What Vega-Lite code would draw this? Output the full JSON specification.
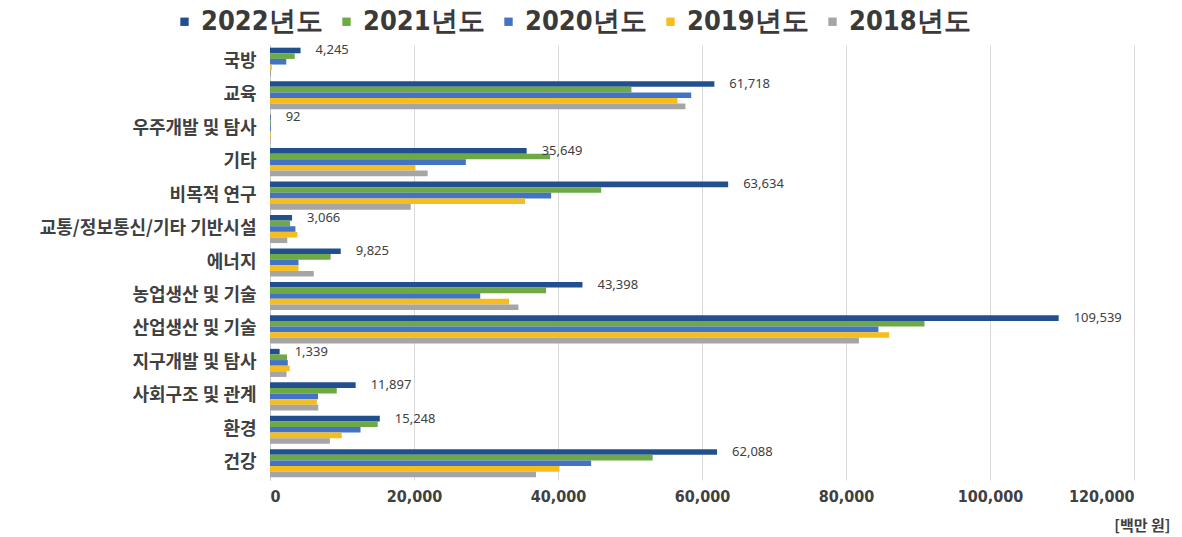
{
  "$schema": "https://vega.github.io/schema/vega-lite/v6.json",
  "width": 864,
  "height": 435,
  "autosize": {"type": "none"},
  "padding": {"left": 270, "top": 45, "right": 48, "bottom": 57},
  "background": "white",
  "config": {"view": {"stroke": null}},
  "data": {"values": [
    {"cat": "국방", "year": "2022년도", "value": 4245},
    {"cat": "국방", "year": "2021년도", "value": 3430},
    {"cat": "국방", "year": "2020년도", "value": 2260},
    {"cat": "국방", "year": "2019년도", "value": 250},
    {"cat": "국방", "year": "2018년도", "value": 150},
    {"cat": "교육", "year": "2022년도", "value": 61718},
    {"cat": "교육", "year": "2021년도", "value": 50200},
    {"cat": "교육", "year": "2020년도", "value": 58500},
    {"cat": "교육", "year": "2019년도", "value": 56600},
    {"cat": "교육", "year": "2018년도", "value": 57700},
    {"cat": "우주개발 및 탐사", "year": "2022년도", "value": 92},
    {"cat": "우주개발 및 탐사", "year": "2021년도", "value": 110},
    {"cat": "우주개발 및 탐사", "year": "2020년도", "value": 120},
    {"cat": "우주개발 및 탐사", "year": "2019년도", "value": 100},
    {"cat": "우주개발 및 탐사", "year": "2018년도", "value": 90},
    {"cat": "기타", "year": "2022년도", "value": 35649},
    {"cat": "기타", "year": "2021년도", "value": 38900},
    {"cat": "기타", "year": "2020년도", "value": 27200},
    {"cat": "기타", "year": "2019년도", "value": 20200},
    {"cat": "기타", "year": "2018년도", "value": 21900},
    {"cat": "비목적 연구", "year": "2022년도", "value": 63634},
    {"cat": "비목적 연구", "year": "2021년도", "value": 46000},
    {"cat": "비목적 연구", "year": "2020년도", "value": 39050},
    {"cat": "비목적 연구", "year": "2019년도", "value": 35430},
    {"cat": "비목적 연구", "year": "2018년도", "value": 19550},
    {"cat": "교통/정보통신/기타 기반시설", "year": "2022년도", "value": 3066},
    {"cat": "교통/정보통신/기타 기반시설", "year": "2021년도", "value": 2800},
    {"cat": "교통/정보통신/기타 기반시설", "year": "2020년도", "value": 3530},
    {"cat": "교통/정보통신/기타 기반시설", "year": "2019년도", "value": 3800},
    {"cat": "교통/정보통신/기타 기반시설", "year": "2018년도", "value": 2400},
    {"cat": "에너지", "year": "2022년도", "value": 9825},
    {"cat": "에너지", "year": "2021년도", "value": 8420},
    {"cat": "에너지", "year": "2020년도", "value": 3960},
    {"cat": "에너지", "year": "2019년도", "value": 3960},
    {"cat": "에너지", "year": "2018년도", "value": 6080},
    {"cat": "농업생산 및 기술", "year": "2022년도", "value": 43398},
    {"cat": "농업생산 및 기술", "year": "2021년도", "value": 38340},
    {"cat": "농업생산 및 기술", "year": "2020년도", "value": 29200},
    {"cat": "농업생산 및 기술", "year": "2019년도", "value": 33200},
    {"cat": "농업생산 및 기술", "year": "2018년도", "value": 34500},
    {"cat": "산업생산 및 기술", "year": "2022년도", "value": 109539},
    {"cat": "산업생산 및 기술", "year": "2021년도", "value": 90900},
    {"cat": "산업생산 및 기술", "year": "2020년도", "value": 84500},
    {"cat": "산업생산 및 기술", "year": "2019년도", "value": 86000},
    {"cat": "산업생산 및 기술", "year": "2018년도", "value": 81800},
    {"cat": "지구개발 및 탐사", "year": "2022년도", "value": 1339},
    {"cat": "지구개발 및 탐사", "year": "2021년도", "value": 2360},
    {"cat": "지구개발 및 탐사", "year": "2020년도", "value": 2470},
    {"cat": "지구개발 및 탐사", "year": "2019년도", "value": 2740},
    {"cat": "지구개발 및 탐사", "year": "2018년도", "value": 2300},
    {"cat": "사회구조 및 관계", "year": "2022년도", "value": 11897},
    {"cat": "사회구조 및 관계", "year": "2021년도", "value": 9270},
    {"cat": "사회구조 및 관계", "year": "2020년도", "value": 6670},
    {"cat": "사회구조 및 관계", "year": "2019년도", "value": 6510},
    {"cat": "사회구조 및 관계", "year": "2018년도", "value": 6700},
    {"cat": "환경", "year": "2022년도", "value": 15248},
    {"cat": "환경", "year": "2021년도", "value": 14960},
    {"cat": "환경", "year": "2020년도", "value": 12570},
    {"cat": "환경", "year": "2019년도", "value": 9970},
    {"cat": "환경", "year": "2018년도", "value": 8320},
    {"cat": "건강", "year": "2022년도", "value": 62088},
    {"cat": "건강", "year": "2021년도", "value": 53150},
    {"cat": "건강", "year": "2020년도", "value": 44600},
    {"cat": "건강", "year": "2019년도", "value": 40200},
    {"cat": "건강", "year": "2018년도", "value": 36950}
  ]},
  "encoding": {
    "y": {
      "field": "cat", "type": "nominal",
      "sort": ["국방", "교육", "우주개발 및 탐사", "기타", "비목적 연구", "교통/정보통신/기타 기반시설", "에너지", "농업생산 및 기술", "산업생산 및 기술", "지구개발 및 탐사", "사회구조 및 관계", "환경", "건강"],
      "scale": {"paddingInner": 0.16, "paddingOuter": 0.08},
      "axis": {
        "title": null, "ticks": false, "domain": true, "domainColor": "#c8c8c8",
        "labelFont": "Noto Sans CJK KR", "labelFontSize": 18, "labelFontWeight": "bold",
        "labelColor": "#404040", "labelPadding": 14, "labelLimit": 300
      }
    },
    "yOffset": {
      "field": "year", "type": "nominal",
      "sort": ["2022년도", "2021년도", "2020년도", "2019년도", "2018년도"],
      "scale": {"paddingInner": 0, "paddingOuter": 0}
    },
    "x": {
      "field": "value", "type": "quantitative",
      "scale": {"domain": [0, 120000], "nice": false},
      "axis": {
        "values": [0, 20000, 40000, 60000, 80000, 100000, 120000],
        "format": ",.0f", "domain": false, "ticks": false,
        "grid": true, "gridColor": "#d9d9d9",
        "labelFont": "DejaVu Sans Condensed", "labelFontSize": 16, "labelFontWeight": "bold",
        "labelColor": "#404040", "labelPadding": 8,
        "title": "[백만 원]", "titleFont": "Noto Sans CJK KR", "titleFontSize": 15,
        "titleFontWeight": "bold", "titleColor": "#404040",
        "titleAnchor": "end", "titleAlign": "right", "titleX": 900, "titleY": 50,
        "titleBaseline": "alphabetic"
      }
    }
  },
  "layer": [
    {
      "mark": {"type": "bar"},
      "encoding": {
        "color": {
          "field": "year", "type": "nominal",
          "sort": ["2022년도", "2021년도", "2020년도", "2019년도", "2018년도"],
          "scale": {
            "domain": ["2022년도", "2021년도", "2020년도", "2019년도", "2018년도"],
            "range": ["#22508F", "#6DAA45", "#4472C4", "#F5BE1E", "#A5A5A5"]
          },
          "legend": {
            "title": null, "orient": "none", "direction": "horizontal",
            "legendX": -99, "legendY": -37,
            "symbolType": "square", "symbolSize": 70, "symbolStrokeWidth": 0,
            "labelFont": "DejaVu Sans Condensed", "labelFontSize": 27, "labelFontWeight": "bold",
            "labelColor": "#3a3a3a", "labelOffset": 3, "columnPadding": 10, "labelLimit": 300
          }
        }
      }
    },
    {
      "transform": [{"filter": "datum.year === '2022년도'"}],
      "mark": {"type": "text", "align": "left", "baseline": "middle", "dx": 15,
               "font": "Noto Sans", "fontSize": 13, "color": "#404040"},
      "encoding": {
        "text": {"field": "value", "type": "quantitative", "format": ","}
      }
    }
  ]
}
